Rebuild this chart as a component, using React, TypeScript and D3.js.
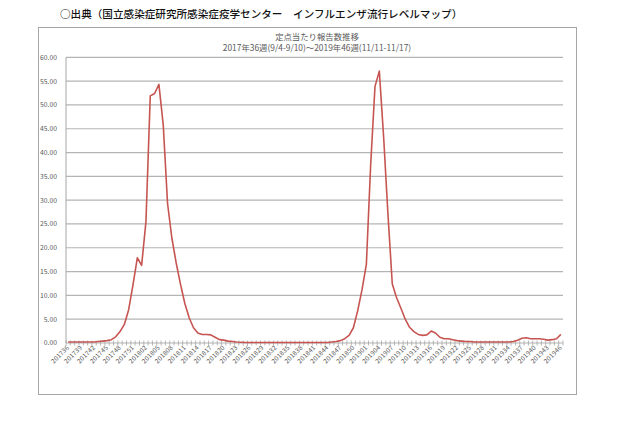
import React from "react";
import * as d3 from "d3";

const values2017: number[] = [0.2, 0.2, 0.2, 0.2, 0.2, 0.2, 0.2, 0.3, 0.4, 0.5, 0.7, 1.3, 2.4, 3.9, 7.0, 12.2, 17.9];
const values2018: number[] = [
  16.3, 25.5, 51.9, 52.4, 54.3, 45.8, 29.3, 22.0, 16.8, 12.3, 8.3, 5.3, 3.2, 2.1, 1.8, 1.8, 1.7, 1.2, 0.7, 0.6, 0.4, 0.3, 0.2, 0.15,
  0.1, 0.1, 0.1, 0.1, 0.1, 0.1, 0.1, 0.1, 0.1, 0.1, 0.1, 0.1, 0.1, 0.1, 0.1, 0.1, 0.1, 0.1, 0.1, 0.1,
  0.2, 0.3, 0.5, 0.9, 1.6, 3.2, 6.8, 11.2,
];
const values2019: number[] = [
  16.5, 37.5, 53.9, 57.1, 43.2, 27.0, 12.4, 9.5, 7.3, 5.0, 3.3, 2.4, 1.8, 1.6, 1.7, 2.5, 2.1, 1.2, 0.9, 0.9, 0.7, 0.5, 0.4, 0.3,
  0.3, 0.2, 0.2, 0.2, 0.2, 0.2, 0.2, 0.2, 0.2, 0.2, 0.3, 0.6, 1.0, 1.1, 0.9, 0.9, 0.9, 0.8, 0.6, 0.7, 0.9, 1.8,
];
const startWeek2017 = 36;
const yTicks: number[] = [0, 5, 10, 15, 20, 25, 30, 35, 40, 45, 50, 55, 60];

const headerText = "○出典（国立感染症研究所感染症疫学センター　インフルエンザ流行レベルマップ）";
const titleLine1 = "定点当たり報告数推移";
const titleLine2 = "2017年36週(9/4-9/10)〜2019年46週(11/11-11/17)";

const pad = (n: number) => (n < 10 ? "0" + n : "" + n);
const categories: string[] = [
  ...values2017.map((_, i) => "2017" + pad(startWeek2017 + i)),
  ...values2018.map((_, i) => "2018" + pad(i + 1)),
  ...values2019.map((_, i) => "2019" + pad(i + 1)),
];
const values: number[] = [...values2017, ...values2018, ...values2019];

const FONT = "'Noto Sans CJK JP', 'Noto Sans', sans-serif";

export default function App() {
  const W = 640, H = 426;
  const left = 66, right = 563, top = 57.3, bottom = 343;
  const x = d3.scaleBand<number>().domain(categories.map((_, i) => i)).range([left, right]).padding(0);
  const bw = x.bandwidth();
  const y = d3.scaleLinear().domain([0, 60]).range([bottom, top]);
  const line = d3.line<number>().x((_, i) => (x(i) as number) + bw / 2).y((d) => y(d));

  return (
    <svg width={W} height={H} style={{ position: "absolute", left: 0, top: 0, background: "#fff" }}>
      <text x={60} y={18} fontFamily={FONT} fontSize={10.6} fill="#111" fontWeight={500}>{headerText}</text>
      <rect x={38.5} y={27.5} width={538} height={367} fill="none" stroke="#a6a6a6" strokeWidth={1} />
      <text x={317} y={40} textAnchor="middle" fontFamily={FONT} fontSize={8.4} fill="#595959">{titleLine1}</text>
      <text x={317} y={51} textAnchor="middle" fontFamily={FONT} fontSize={8.4} fill="#595959">{titleLine2}</text>
      {yTicks.map((t) => (
        <g key={t}>
          <line x1={left} x2={right} y1={y(t)} y2={y(t)} stroke="#b4b4b4" strokeWidth={1.2} />
          <text x={57} y={y(t) + 2.4} textAnchor="end" fontFamily={FONT} fontSize={6.8} fill="#595959">{t.toFixed(2)}</text>
        </g>
      ))}
      <line x1={left} x2={left} y1={top} y2={bottom} stroke="#a6a6a6" strokeWidth={1} />
      {categories.map((_, i) => (
        <line key={"t" + i} x1={x(i) as number} x2={x(i) as number} y1={bottom - 2.5} y2={bottom + 2.5} stroke="#a6a6a6" strokeWidth={0.8} />
      ))}
      <line x1={right} x2={right} y1={bottom - 2.5} y2={bottom + 2.5} stroke="#a6a6a6" strokeWidth={0.8} />
      {categories.map((c, i) =>
        i % 3 === 0 ? (
          <text
            key={"l" + i}
            transform={`translate(${(x(i) as number) + bw / 2 + 1.5},${bottom + 5}) rotate(-45)`}
            textAnchor="end"
            fontFamily={FONT}
            fontSize={6.4}
            letterSpacing={0.2}
            fill="#595959"
          >
            {c}
          </text>
        ) : null
      )}
      <path d={line(values) || ""} fill="none" stroke="#c65552" strokeWidth={1.6} strokeLinejoin="round" />
    </svg>
  );
}
